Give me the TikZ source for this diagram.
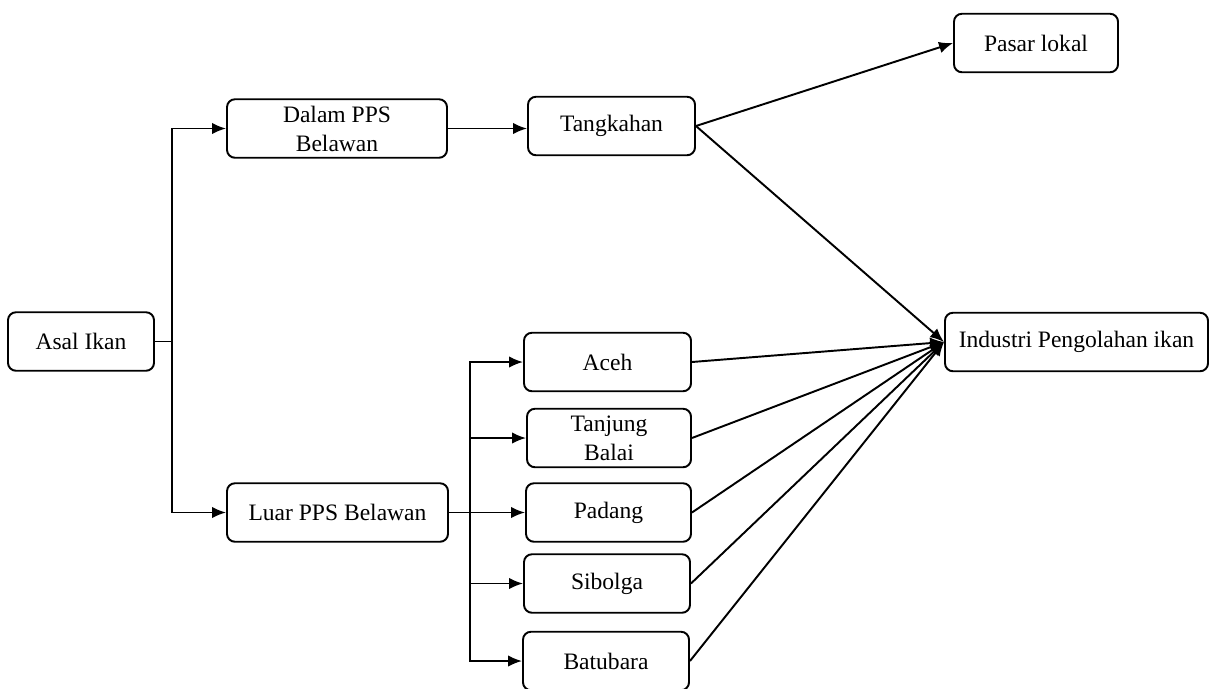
\documentclass[tikz,border=0pt]{standalone}
\usepackage{fontspec}
\setmainfont{Liberation Serif}
\usetikzlibrary{arrows.meta}

\begin{document}
\begin{tikzpicture}[line width=1.1pt,>={Latex[length=2.8mm,width=2.3mm]},
	box/.style={shape=rectangle,rounded corners=4.5pt,draw=black,align=center,minimum height=1.17cm,inner sep=2pt,font=\fontsize{13.4}{16.5}\selectfont}]
	\useasboundingbox (0,0) rectangle (24.18,-13.76);
	\node[box,minimum width=2.92cm] (ai) at (1.62,-6.83) {Asal Ikan};
	\node[box,minimum width=4.4cm] (dp) at (6.74,-2.57) {Dalam PPS\\Belawan};
	\node[box,minimum width=4.42cm] (lp) at (6.75,-10.25) {Luar PPS Belawan};
	\node[box,minimum width=3.34cm] (tk) at (12.23,-2.52) {Tangkahan};
	\node[box,minimum width=3.28cm] (pl) at (20.72,-0.86) {Pasar lokal};
	\node[box,minimum width=5.26cm] (ip) at (21.53,-6.84) {Industri Pengolahan ikan};
	\node[box,minimum width=3.34cm] (ac) at (12.15,-7.24) {Aceh};
	\node[box,minimum width=3.28cm] (tb) at (12.18,-8.76) {Tanjung\\Balai};
	\node[box,minimum width=3.3cm] (pd) at (12.17,-10.25) {Padang};
	\node[box,minimum width=3.32cm] (sb) at (12.14,-11.67) {Sibolga};
	\node[box,minimum width=3.32cm] (bb) at (12.12,-13.22) {Batubara};
	\coordinate (j1) at (3.44,-6.83);
	\coordinate (j2) at (9.4,-10.25);
	\draw (ai.east) -- (j1);
	\draw[->] (j1) |- (dp.west);
	\draw[->] (j1) |- (lp.west);
	\draw[->] (dp.east) -- (dp.east -| tk.west);
	\draw[->] (lp.east) -- (pd.west);
	\draw[->] (j2) |- (ac.west);
	\draw[->] (j2) |- (tb.west);
	\draw[->] (j2) |- (sb.west);
	\draw[->] (j2) |- (bb.west);
	\path [->] (tk.east) edge (pl.west);
	\path [->] (tk.east) edge (ip.west);
	\path [->] (ac.east) edge (ip.west);
	\path [->] (tb.east) edge (ip.west);
	\path [->] (pd.east) edge (ip.west);
	\path [->] (sb.east) edge (ip.west);
	\path [->] (bb.east) edge (ip.west);
\end{tikzpicture}
\end{document}
